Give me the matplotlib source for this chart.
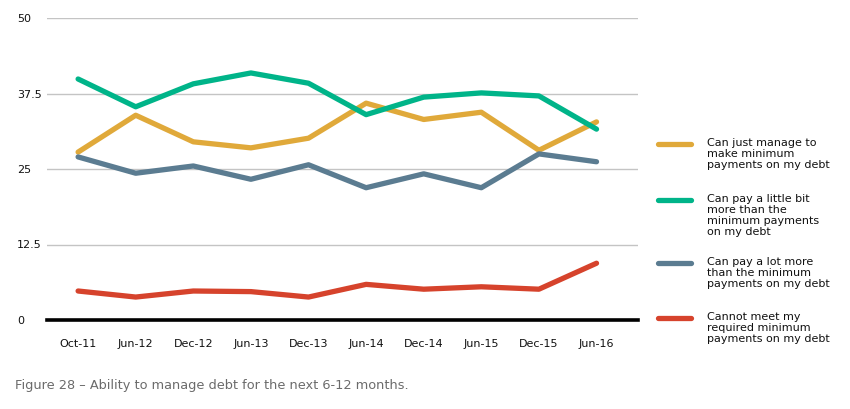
import matplotlib
matplotlib.use("Agg")
import matplotlib.pyplot as plt
from matplotlib.lines import Line2D

plt.rcParams['font.family'] = ['DejaVu Sans']

categories = ["Oct-11", "Jun-12", "Dec-12", "Jun-13", "Dec-13",
              "Jun-14", "Dec-14", "Jun-15", "Dec-15", "Jun-16"]
just_manage = [27.8, 33.9, 29.5, 28.5, 30.1, 35.9, 33.2, 34.4, 28.1, 32.8]
little_more = [39.9, 35.3, 39.1, 40.9, 39.2, 34.0, 36.9, 37.6, 37.1, 31.6]
lot_more = [27.0, 24.3, 25.5, 23.3, 25.7, 21.9, 24.2, 21.9, 27.5, 26.2]
cannot_meet = [4.8, 3.8, 4.8, 4.7, 3.8, 5.9, 5.1, 5.5, 5.1, 9.4]

labels = ["Can just manage to\nmake minimum\npayments on my debt",
          "Can pay a little bit\nmore than the\nminimum payments\non my debt",
          "Can pay a lot more\nthan the minimum\npayments on my debt",
          "Cannot meet my\nrequired minimum\npayments on my debt"]
colors = ["#E0A93A", "#00B489", "#5B7C91", "#D6432C"]
yticks = [0, 12.5, 25, 37.5, 50]
ytick_labels = ["0", "12.5", "25", "37.5", "50"]

W, H = 850, 409
fig = plt.figure(figsize=(W / 100, H / 100), dpi=100)
ax = fig.add_axes([47 / W, (H - 320) / H, (638 - 47) / W, (320 - 18) / H])

x = list(range(len(categories)))
series = [just_manage, little_more, lot_more, cannot_meet]
for s, c in zip(series, colors):
    ax.plot(x, s, color=c, lw=3.8, solid_capstyle='round',
            solid_joinstyle='round', zorder=3)

ax.set_xlim(-0.54, 9.72)
ax.set_ylim(0, 50)
ax.set_yticks(yticks)
ax.set_yticklabels(ytick_labels)
ax.set_xticks(x)
ax.set_xticklabels(categories)
for sp in ax.spines.values():
    sp.set_visible(False)
ax.grid(axis='y', color='#c4c4c4', lw=1.0, zorder=1)
ax.axhline(0, color='black', lw=2.6, zorder=4, clip_on=False)
ax.tick_params(axis='both', length=0, labelsize=8.0, colors='#111111')
ax.tick_params(axis='y', pad=21.6)
for t in ax.get_yticklabels():
    t.set_horizontalalignment('left')
ax.tick_params(axis='x', pad=14)

# legend drawn manually
ys = [144, 200, 263, 318]
for lab, c, yy in zip(labels, colors, ys):
    fy = (H - yy) / H
    fig.add_artist(Line2D([658 / W, 691 / W], [fy, fy], color=c, lw=3.8,
                          solid_capstyle='round', transform=fig.transFigure))
    fig.text(707 / W, fy + 6 / H, lab, ha='left', va='top', fontsize=8.0,
             color='#111111', linespacing=1.12)

fig.text(15 / W, (H - 385) / H, "Figure 28 \u2013 Ability to manage debt for the next 6-12 months.",
         ha='left', va='center', fontsize=9.3, color='#6b6b6b')

fig.savefig("out.png", dpi=100)
